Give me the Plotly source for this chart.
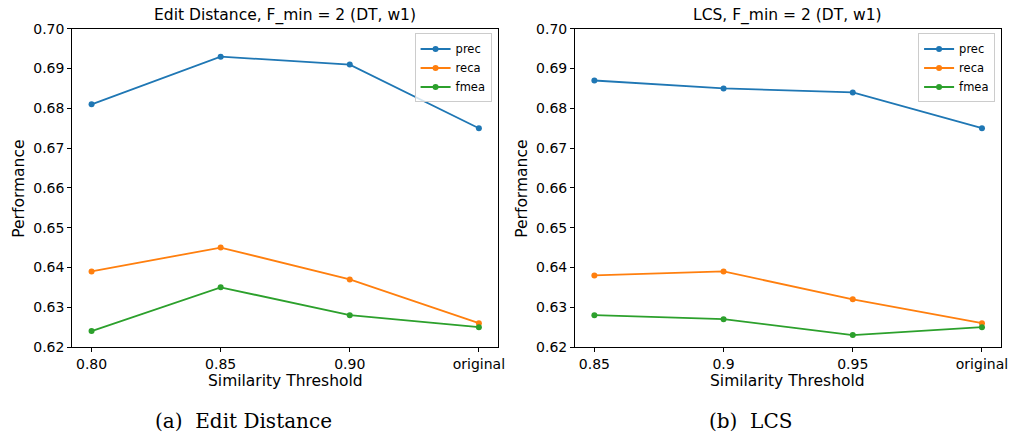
import plotly.graph_objects as go

W, H = 1015, 438

left_cats = ["0.80", "0.85", "0.90", "original"]
right_cats = ["0.85", "0.9", "0.95", "original"]

left_prec = [0.681, 0.693, 0.691, 0.675]
left_reca = [0.639, 0.645, 0.637, 0.626]
left_fmea = [0.624, 0.635, 0.628, 0.625]

right_prec = [0.687, 0.685, 0.684, 0.675]
right_reca = [0.638, 0.639, 0.632, 0.626]
right_fmea = [0.628, 0.627, 0.623, 0.625]

series_names = ["prec", "reca", "fmea"]
colors = ["#1f77b4", "#ff7f0e", "#2ca02c"]

fig = go.Figure()

def add_panel(cats, vals, xa, ya, legend):
    for name, v, c in zip(series_names, vals, colors):
        fig.add_trace(go.Scatter(
            x=cats, y=v, name=name, mode="lines+markers",
            line=dict(color=c, width=1.8),
            marker=dict(color=c, size=6),
            xaxis=xa, yaxis=ya, legend=legend,
        ))

add_panel(left_cats, [left_prec, left_reca, left_fmea], "x", "y", "legend")
add_panel(right_cats, [right_prec, right_reca, right_fmea], "x2", "y2", "legend2")


def py(y):
    # vertical pixel position helper
    return (y - 7.5) / 0.964


font = "DejaVu Sans"
axcommon = dict(
    showgrid=False, zeroline=False, showline=True, linecolor="black", linewidth=1,
    mirror=True, ticks="outside", ticklen=4, tickcolor="black",
    tickfont=dict(family=font, size=14, color="black"),
)

y0 = 1 - py(346.7) / H
y1 = 1 - py(28.3) / H
lx = (72.7 / W, 501.7 / W)
rx = (579 / W, 1008.3 / W)

leg = dict(yanchor="top", xanchor="right",
           bgcolor="rgba(255,255,255,0.8)", bordercolor="#cccccc", borderwidth=1,
           font=dict(family=font, size=11.5, color="black"), tracegroupgap=0,
           itemwidth=30)

fig.update_layout(
    width=W, height=H,
    margin=dict(l=0, r=0, t=0, b=0),
    paper_bgcolor="white", plot_bgcolor="white",
    font=dict(family=font, color="black"),
    xaxis=dict(domain=lx, anchor="y", type="category", range=[-0.15, 3.15], **axcommon),
    yaxis=dict(domain=(y0, y1), anchor="x", range=[0.62, 0.70], dtick=0.01,
               tickformat=".2f", **axcommon),
    xaxis2=dict(domain=rx, anchor="y2", type="category", range=[-0.15, 3.15], **axcommon),
    yaxis2=dict(domain=(y0, y1), anchor="x2", range=[0.62, 0.70], dtick=0.01,
                tickformat=".2f", **axcommon),
    legend=dict(x=495 / W, y=1 - py(33) / H, **leg),
    legend2=dict(x=1002 / W, y=1 - py(33) / H, **leg),
    showlegend=True,
)

ann = []
def text(x, y, s, size=15.5, angle=0, fam=font):
    ann.append(dict(x=x / W, y=1 - py(y) / H, xref="paper", yref="paper", text=s,
                    showarrow=False, xanchor="center", yanchor="middle",
                    textangle=angle, font=dict(family=fam, size=size, color="black")))

text(287, 15, "Edit Distance, F_min = 2 (DT, w1)")
text(793, 15, "LCS, F_min = 2 (DT, w1)")
text(287, 381, "Similarity Threshold")
text(793, 381, "Similarity Threshold")
text(19.5, 188, "Performance", angle=-90)
text(526, 188, "Performance", angle=-90)
text(245.5, 421, "(a)  Edit Distance", size=20, fam="DejaVu Serif")
text(756, 421, "(b)  LCS", size=20, fam="DejaVu Serif")
fig.update_layout(annotations=ann)

fig.write_html("out.html")
